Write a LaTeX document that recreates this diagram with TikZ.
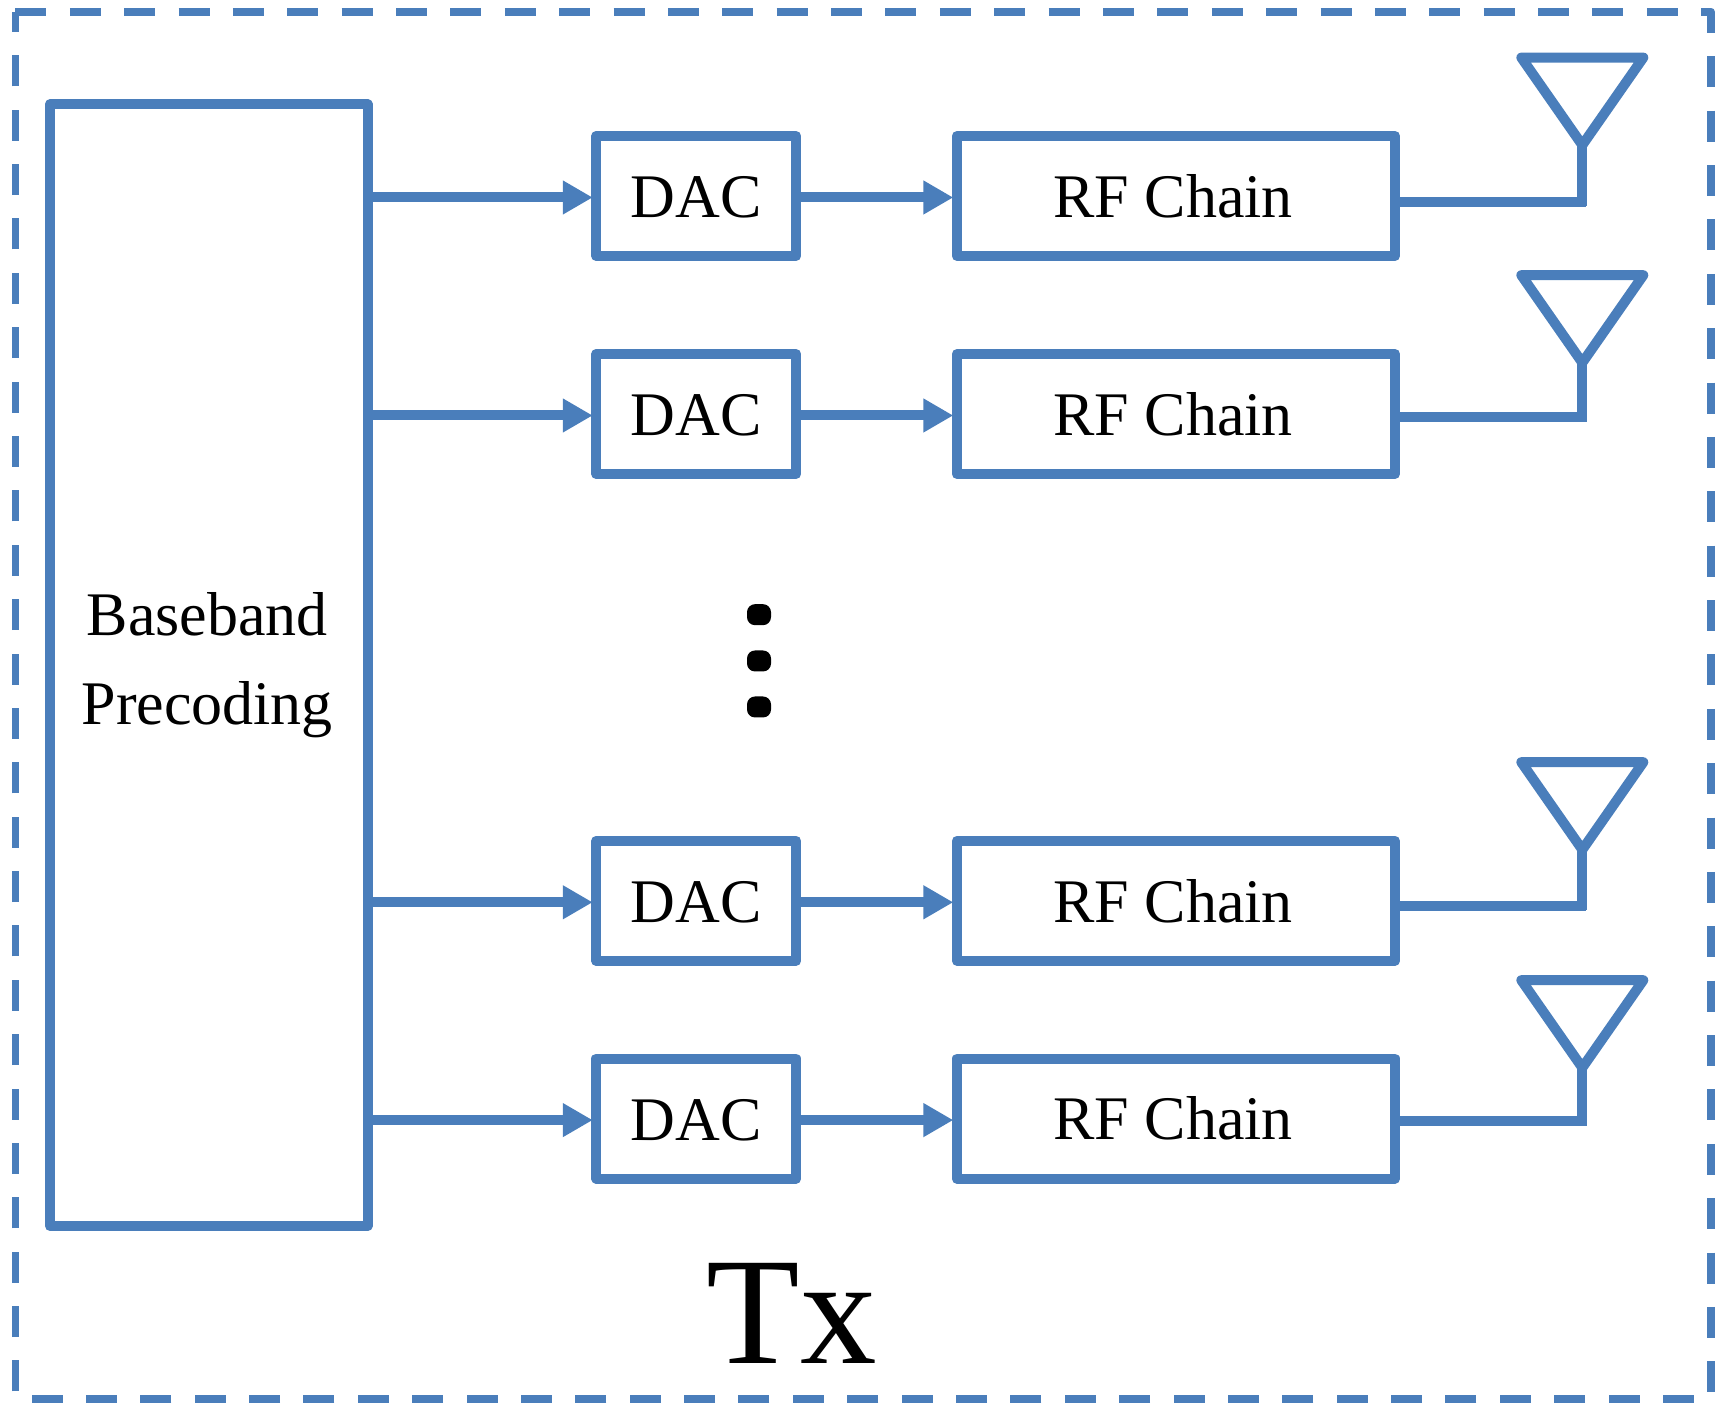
\documentclass[tikz,border=0pt]{standalone}
\usepackage{fontspec}
\setmainfont{Liberation Serif}
\usetikzlibrary{arrows.meta}
\definecolor{txblue}{HTML}{4A7EBB}
\tikzset{
  block/.style={draw=txblue,line width=10bp,line join=round,inner sep=0pt,font=\fontsize{62bp}{89bp}\selectfont},
  dacbox/.style={block,minimum width=200bp,minimum height=120bp,text height=44bp},
  rfbox/.style={block,minimum width=438.2bp,minimum height=120bp,execute at begin node=\hspace*{-5.4bp}},
  wire/.style={draw=txblue,line width=10bp},
  antenna/.style={draw=txblue,line width=10bp,line join=round},
  pause/.style={fill=black,rounded corners=8bp,minimum width=24bp,minimum height=21bp,inner sep=0pt},
}
\begin{document}
\begin{tikzpicture}[>={Triangle[length=30bp,width=32bp]},line join=miter]
\useasboundingbox (0bp,0bp) rectangle (1725bp,1408bp);
%%
\draw [draw=txblue,line width=7.7bp,line join=round,dash pattern=on 31bp off 23.38bp] (15.4bp,1396.3bp) -- (1711.0bp,1396.3bp) -- (1711.0bp,9.3bp) -- (15.4bp,9.3bp) -- cycle;
%
\node (base) at (208.75bp,742.85bp) [block,minimum width=317.5bp,minimum height=1121.7bp,align=center] {\hspace*{-3bp}Baseband\\\hspace*{-3bp}Precoding};
  \node (dac_1) at (696.25bp,1212.0bp) [dacbox] {DAC};
  \node (dac_2) at (696.25bp,994.0bp) [dacbox] {DAC};
  \node (dac_3) at (696.25bp,507.2bp) [dacbox] {DAC};
  \node (dac_4) at (696.25bp,289.4bp) [dacbox] {DAC};
  \node (rf_1) at (1175.9bp,1212.0bp) [rfbox] {RF Chain};
  \node (rf_2) at (1175.9bp,994.0bp) [rfbox] {RF Chain};
  \node (rf_3) at (1175.9bp,507.2bp) [rfbox] {RF Chain};
  \node (rf_4) at (1175.9bp,289.4bp) [rfbox] {RF Chain};
  \node (dot_1) at (759.0bp,793.3bp) [pause] {};
  \node (dot_2) at (759.0bp,747.0bp) [pause] {};
  \node (dot_3) at (759.0bp,701.0bp) [pause] {};
  \node (tx) at (791.7bp,44.7bp) [anchor=base,inner sep=0pt,font=\fontsize{153bp}{153bp}\selectfont] {Tx};
%
  \coordinate (ant_1) at (1582.3bp,1262.9bp);
  \coordinate (ant_2) at (1582.3bp,1045.3bp);
  \coordinate (ant_3) at (1582.3bp,558.3bp);
  \coordinate (ant_4) at (1582.3bp,340.3bp);
  \coordinate (feed_1) at (1582.3bp,1205.5bp);
  \coordinate (feed_2) at (1582.3bp,990.5bp);
  \coordinate (feed_3) at (1582.3bp,501.5bp);
  \coordinate (feed_4) at (1582.3bp,286.5bp);
%
  \draw [wire,->,shorten >=-1.5bp] ([yshift=-1.5bp]base.east |- dac_1.west) -- ([yshift=-1.5bp]dac_1.west);
  \draw [wire,->,shorten >=-1.5bp] ([yshift=-1.5bp]base.east |- dac_2.west) -- ([yshift=-1.5bp]dac_2.west);
  \draw [wire,->,shorten >=-1.5bp] ([yshift=-1.5bp]base.east |- dac_3.west) -- ([yshift=-1.5bp]dac_3.west);
  \draw [wire,->,shorten >=-1.5bp] ([yshift=-1.5bp]base.east |- dac_4.west) -- ([yshift=-1.5bp]dac_4.west);
  \draw [wire,->,shorten >=-1.5bp] ([yshift=-1.5bp]dac_1.east) -- ([yshift=-1.5bp]rf_1.west);
  \draw [wire,->,shorten >=-1.5bp] ([yshift=-1.5bp]dac_2.east) -- ([yshift=-1.5bp]rf_2.west);
  \draw [wire,->,shorten >=-1.5bp] ([yshift=-1.5bp]dac_3.east) -- ([yshift=-1.5bp]rf_3.west);
  \draw [wire,->,shorten >=-1.5bp] ([yshift=-1.5bp]dac_4.east) -- ([yshift=-1.5bp]rf_4.west);
%
  \draw [wire] (rf_1.east |- feed_1) -- ([xshift=3.5bp]feed_1);
  \draw [wire] (ant_1) -- ([yshift=-3.4bp]feed_1);
  \draw [wire] (rf_2.east |- feed_2) -- (feed_2) -- (ant_2);
  \draw [wire] (rf_3.east |- feed_3) -- ([xshift=3.5bp]feed_3);
  \draw [wire] (ant_3) -- ([yshift=-3.4bp]feed_3);
  \draw [wire] (rf_4.east |- feed_4) -- (feed_4) -- (ant_4);
%
  \draw [antenna] (ant_1) -- ++(-61bp,87.5bp) -- ++(122bp,0bp) -- cycle;
  \draw [antenna] (ant_2) -- ++(-61bp,87.5bp) -- ++(122bp,0bp) -- cycle;
  \draw [antenna] (ant_3) -- ++(-61bp,87.5bp) -- ++(122bp,0bp) -- cycle;
  \draw [antenna] (ant_4) -- ++(-61bp,87.5bp) -- ++(122bp,0bp) -- cycle;
%
\end{tikzpicture}
\end{document}
